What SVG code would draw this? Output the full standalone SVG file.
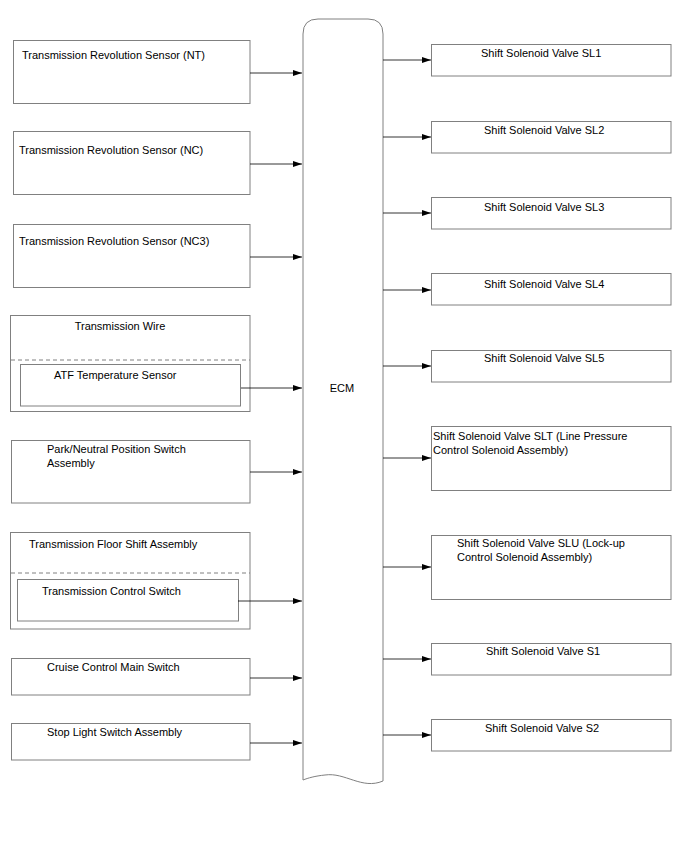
<svg xmlns="http://www.w3.org/2000/svg" width="688" height="852" viewBox="0 0 688 852">
<style>
.box{fill:#fff;stroke:#808080;stroke-width:1}
.dash{stroke:#808080;stroke-width:1;stroke-dasharray:4,3;fill:none}
.t{font-family:"Liberation Sans",Arial,sans-serif;font-size:11px;fill:#000}
.c{stroke:#000;stroke-width:0.8;fill:none;marker-end:url(#ah)}
</style>
<defs>
<marker id="ah" markerWidth="10" markerHeight="8" refX="9" refY="4" orient="auto" markerUnits="userSpaceOnUse">
<path d="M0,1 L9,4 L0,7 Z" fill="#000"/>
</marker>
</defs>
<rect width="688" height="852" fill="#fff"/>
<g id="ecm">
<path class="box" d="M303,780 L303,34 Q303,19 318,19 L368,19 Q383,19 383,34 L383,781 C362,790 345,772 325,775 C315,776 308,778 303,780 Z"/>
<text class="t" x="342" y="392" text-anchor="middle">ECM</text>
</g>
<g id="n-nt"><rect class="box" x="13.5" y="40.5" width="236.5" height="63"/><text class="t" x="22" y="59">Transmission Revolution Sensor (NT)</text></g>
<g id="n-nc"><rect class="box" x="13.5" y="131.5" width="236.5" height="63"/><text class="t" x="19" y="154">Transmission Revolution Sensor (NC)</text></g>
<g id="n-nc3"><rect class="box" x="13.5" y="224.5" width="236.5" height="63"/><text class="t" x="19" y="245">Transmission Revolution Sensor (NC3)</text></g>
<g id="n-wire"><rect class="box" x="10.5" y="315.5" width="239.5" height="96"/><line class="dash" x1="11" y1="360" x2="250" y2="360"/><text class="t" x="120" y="330" text-anchor="middle">Transmission Wire</text></g>
<g id="n-atf"><rect class="box" x="20.5" y="364.5" width="220" height="41.5"/><text class="t" x="54" y="379">ATF Temperature Sensor</text></g>
<g id="n-pn"><rect class="box" x="11.5" y="440.5" width="238.5" height="62.5"/><text class="t" x="47" y="453">Park/Neutral Position Switch</text><text class="t" x="47" y="467">Assembly</text></g>
<g id="n-floor"><rect class="box" x="10.5" y="532.5" width="239.5" height="96.5"/><line class="dash" x1="11" y1="573" x2="250" y2="573"/><text class="t" x="29" y="548">Transmission Floor Shift Assembly</text></g>
<g id="n-tcs"><rect class="box" x="17.5" y="579.5" width="221" height="41.5"/><text class="t" x="42" y="595">Transmission Control Switch</text></g>
<g id="n-cruise"><rect class="box" x="11.5" y="658.5" width="238.5" height="36.5"/><text class="t" x="47" y="671">Cruise Control Main Switch</text></g>
<g id="n-stop"><rect class="box" x="11.5" y="723.5" width="238.5" height="36.5"/><text class="t" x="47" y="736">Stop Light Switch Assembly</text></g>
<g id="n-sl1"><rect class="box" x="431.5" y="44.5" width="239.5" height="31.5"/><text class="t" x="481" y="57">Shift Solenoid Valve SL1</text></g>
<g id="n-sl2"><rect class="box" x="431.5" y="121.5" width="239.5" height="31.5"/><text class="t" x="484" y="134">Shift Solenoid Valve SL2</text></g>
<g id="n-sl3"><rect class="box" x="431.5" y="197.5" width="239.5" height="31.5"/><text class="t" x="484" y="211">Shift Solenoid Valve SL3</text></g>
<g id="n-sl4"><rect class="box" x="431.5" y="273.5" width="239.5" height="31.5"/><text class="t" x="484" y="288">Shift Solenoid Valve SL4</text></g>
<g id="n-sl5"><rect class="box" x="431.5" y="350.5" width="239.5" height="31.5"/><text class="t" x="484" y="362">Shift Solenoid Valve SL5</text></g>
<g id="n-slt"><rect class="box" x="431.5" y="426.5" width="239.5" height="64"/><text class="t" x="433" y="440">Shift Solenoid Valve SLT (Line Pressure</text><text class="t" x="433" y="454">Control Solenoid Assembly)</text></g>
<g id="n-slu"><rect class="box" x="431.5" y="535.5" width="239.5" height="64"/><text class="t" x="457" y="547">Shift Solenoid Valve SLU (Lock-up</text><text class="t" x="457" y="561">Control Solenoid Assembly)</text></g>
<g id="n-s1"><rect class="box" x="431.5" y="643.5" width="239.5" height="31.5"/><text class="t" x="486" y="655">Shift Solenoid Valve S1</text></g>
<g id="n-s2"><rect class="box" x="431.5" y="719.5" width="239.5" height="31.5"/><text class="t" x="485" y="732">Shift Solenoid Valve S2</text></g>
<g id="connectors">
<line class="c" x1="250" y1="73" x2="302" y2="73"/>
<line class="c" x1="250" y1="164" x2="302" y2="164"/>
<line class="c" x1="250" y1="257" x2="302" y2="257"/>
<line class="c" x1="241" y1="388" x2="302" y2="388"/>
<line class="c" x1="250" y1="472" x2="302" y2="472"/>
<line class="c" x1="238" y1="601" x2="302" y2="601"/>
<line class="c" x1="250" y1="678" x2="302" y2="678"/>
<line class="c" x1="250" y1="743" x2="302" y2="743"/>
<line class="c" x1="383" y1="60" x2="431" y2="60"/>
<line class="c" x1="383" y1="137" x2="431" y2="137"/>
<line class="c" x1="383" y1="213" x2="431" y2="213"/>
<line class="c" x1="383" y1="290" x2="431" y2="290"/>
<line class="c" x1="383" y1="366" x2="431" y2="366"/>
<line class="c" x1="383" y1="458" x2="431" y2="458"/>
<line class="c" x1="383" y1="567" x2="431" y2="567"/>
<line class="c" x1="383" y1="659" x2="431" y2="659"/>
<line class="c" x1="383" y1="735" x2="431" y2="735"/>
</g>
</svg>
